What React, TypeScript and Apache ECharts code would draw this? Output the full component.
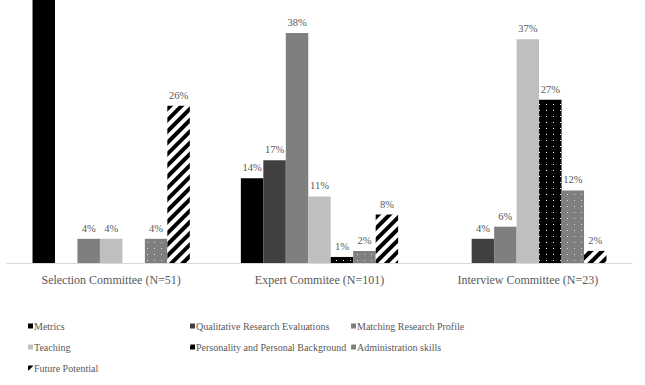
import React, { useEffect, useRef } from "react";
import * as echarts from "echarts";

const categories = ["Selection Committee (N=51)", "Expert Commitee (N=101)", "Interview Committee (N=23)"];
const seriesNames = [
  "Metrics",
  "Qualitative Research Evaluations",
  "Matching Research Profile",
  "Teaching",
  "Personality and Personal Background",
  "Administration skills",
  "Future Potential",
];
const metrics = [59, 14, 0];
const qualitative = [0, 17, 4];
const matching = [4, 38, 6];
const teaching = [4, 11, 37];
const personality = [0, 1, 27];
const administration = [4, 2, 12];
const futurePotential = [26, 8, 2];

const values = [metrics, qualitative, matching, teaching, personality, administration, futurePotential];

const FONT = "Liberation Serif";
const TEXT = "#595959";
const SHIFT = 100;

const styles: any[] = [
  { color: "#000000" },
  { color: "#404040" },
  { color: "#7f7f7f" },
  { color: "#bfbfbf" },
  {
    color: "#000000",
    decal: { symbol: "rect", symbolSize: 1, color: "#ffffff", dashArrayX: [1, 6], dashArrayY: [1, 4.5], rotation: 0 },
  },
  {
    color: "#7f7f7f",
    decal: { symbol: "rect", symbolSize: 1, color: "#d8d8d8", dashArrayX: [1, 6], dashArrayY: [1, 4.5], rotation: 0 },
  },
  {
    color: "#ffffff",
    decal: { symbol: "rect", symbolSize: 1, color: "#000000", dashArrayX: [1, 0], dashArrayY: [3.5, 3.5], rotation: -Math.PI / 4 },
  },
];

const legendPos = [
  [28, 321], [190, 321], [351, 321],
  [28, 342], [190, 342], [351, 342],
  [28, 363],
];

export default function App() {
  const ref = useRef<HTMLDivElement>(null);
  useEffect(() => {
    if (!ref.current) return;
    const chart = echarts.init(ref.current, null, { renderer: "svg" });
    chart.setOption({
      animation: false,
      backgroundColor: "#ffffff",
      grid: { left: 7, right: 13, top: 0, bottom: 122 },
      xAxis: {
        type: "category",
        data: categories,
        axisLine: { lineStyle: { color: "#d9d9d9", width: 1 } },
        axisTick: { show: false },
        axisLabel: { color: TEXT, fontFamily: FONT, fontSize: 12, margin: 11, interval: 0 },
      },
      yAxis: {
        type: "value",
        min: 0,
        max: 60,
        show: false,
        splitLine: { show: false },
      },
      legend: seriesNames.map((n, i) => ({
        data: [n],
        left: legendPos[i][0],
        top: legendPos[i][1] + SHIFT,
        padding: 0,
        itemWidth: 5,
        itemHeight: 5,
        icon: "rect",
        selectedMode: false,
        textStyle: { color: TEXT, fontFamily: FONT, fontSize: 10, padding: [0, 0, 0, -4] },
      })),
      series: seriesNames.map((n, i) => ({
        name: n,
        type: "bar",
        data: values[i],
        barGap: "0%",
        barCategoryGap: "24.5%",
        itemStyle: styles[i],
        label: {
          show: true,
          position: "top",
          distance: 5,
          color: TEXT,
          fontFamily: FONT,
          fontSize: 10.5,
          formatter: (p: any) => (p.value && p.value < 43 ? p.value + "%" : ""),
        },
      })),
    });
    return () => chart.dispose();
  }, []);
  return (
    <div style={{ position: "fixed", left: 0, top: 0, width: 645, height: 385, overflow: "hidden", background: "#fff" }}>
      <div ref={ref} style={{ position: "absolute", left: 0, top: -SHIFT, width: 645, height: 385 + SHIFT }} />
    </div>
  );
}
